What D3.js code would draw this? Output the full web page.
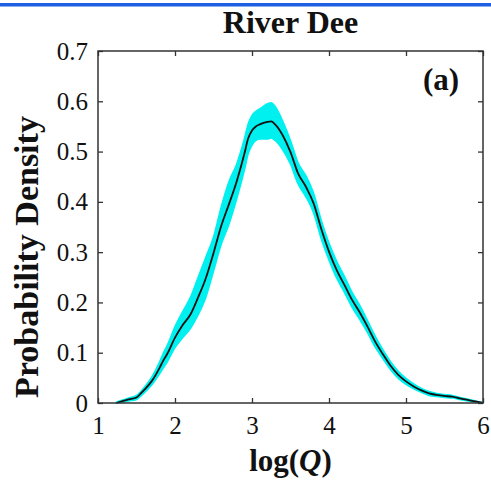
<!DOCTYPE html>
<html>
<head>
<meta charset="utf-8">
<script src="https://cdn.jsdelivr.net/npm/d3@7"></script>
<style>
html,body{margin:0;padding:0;background:#fff;}
svg{display:block;}
</style>
</head>
<body>
<svg id="chart" width="491" height="480"></svg>
<script>
// ---- data ----
const title = "River Dee";
const panelLabel = "(a)";
const xTicks = [1, 2, 3, 4, 5, 6];
const yTicks = [0, 0.1, 0.2, 0.3, 0.4, 0.5, 0.6, 0.7];
const xs = [1.24,1.3,1.4,1.5,1.55,1.6,1.7,1.8,1.85,1.9,2.0,2.1,2.2,2.3,2.4,2.5,2.6,2.7,2.8,2.9,2.95,3.0,3.05,3.1,3.2,3.25,3.3,3.4,3.5,3.6,3.7,3.8,3.9,4.0,4.1,4.2,4.3,4.4,4.5,4.6,4.7,4.8,4.9,5.0,5.1,5.2,5.3,5.4,5.5,5.6,5.7,5.8,5.9,6.0];
const meanDensity = [0,0.003,0.007,0.011,0.018,0.026,0.044,0.07,0.085,0.098,0.13,0.155,0.176,0.21,0.248,0.298,0.352,0.395,0.44,0.495,0.526,0.542,0.55,0.554,0.559,0.56,0.554,0.532,0.499,0.456,0.43,0.397,0.346,0.301,0.264,0.235,0.205,0.18,0.152,0.122,0.097,0.074,0.056,0.043,0.033,0.025,0.019,0.016,0.014,0.0125,0.009,0.006,0.003,0.0];
const upperDensity = [0.002,0.005,0.01,0.015,0.022,0.031,0.052,0.082,0.1,0.115,0.152,0.182,0.21,0.25,0.29,0.33,0.39,0.44,0.475,0.525,0.555,0.572,0.58,0.585,0.595,0.597,0.59,0.56,0.522,0.477,0.452,0.417,0.363,0.318,0.282,0.252,0.22,0.194,0.164,0.133,0.106,0.082,0.063,0.049,0.038,0.029,0.023,0.019,0.017,0.015,0.011,0.008,0.004,0.001];
const lowerDensity = [0,0.001,0.004,0.007,0.013,0.02,0.036,0.058,0.07,0.082,0.11,0.13,0.148,0.175,0.21,0.262,0.315,0.355,0.405,0.462,0.495,0.513,0.522,0.525,0.525,0.527,0.522,0.503,0.475,0.435,0.41,0.378,0.326,0.284,0.248,0.22,0.19,0.166,0.14,0.111,0.088,0.066,0.049,0.037,0.028,0.021,0.015,0.013,0.011,0.01,0.007,0.004,0.002,0];

// ---- layout ----
const svg = d3.select("#chart");
const W = 491, H = 480;
const m = {left: 98, right: 8, top: 51, bottom: 77};
const x = d3.scaleLinear().domain([1, 6]).range([m.left, W - m.right]);
const y = d3.scaleLinear().domain([0, 0.7]).range([H - m.bottom, m.top]);
const serif = "'Liberation Serif','Times New Roman',Times,serif";

// top blue rule
svg.append("rect").attr("x", 0).attr("y", 3).attr("width", W).attr("height", 3.5).attr("fill", "#1f5fe3");

const pts = xs.map((v, i) => ({x: v, m: meanDensity[i], u: upperDensity[i], l: lowerDensity[i]}));

// band
svg.append("path").datum(pts)
  .attr("d", d3.area().curve(d3.curveMonotoneX).x(d => x(d.x)).y0(d => y(d.l)).y1(d => y(d.u)))
  .attr("fill", "#00f0f0").attr("stroke", "#00f0f0").attr("stroke-width", 1.5);

// mean line
svg.append("path").datum(pts)
  .attr("d", d3.line().curve(d3.curveMonotoneX).x(d => x(d.x)).y(d => y(d.m)))
  .attr("fill", "none").attr("stroke", "#111").attr("stroke-width", 1.8);

// axes (box with inward ticks)
const axisColor = "#333";
function styleAxis(g, showLabels) {
  g.select(".domain").remove();
  g.selectAll(".tick line").attr("stroke", axisColor).attr("stroke-width", 1.3);
  g.selectAll(".tick text").attr("font-family", serif).attr("font-size", 25).attr("fill", "#111");
  if (!showLabels) g.selectAll(".tick text").remove();
}
const gx = svg.append("g").attr("transform", `translate(0,${H - m.bottom})`)
  .call(d3.axisBottom(x).tickValues(xTicks).tickFormat(d3.format("d")).tickSizeInner(-5).tickSizeOuter(0).tickPadding(13));
styleAxis(gx, true);
const gxt = svg.append("g").attr("transform", `translate(0,${m.top})`)
  .call(d3.axisTop(x).tickValues(xTicks).tickSizeInner(-5).tickSizeOuter(0));
styleAxis(gxt, false);
const gy = svg.append("g").attr("transform", `translate(${m.left},0)`)
  .call(d3.axisLeft(y).tickValues(yTicks).tickFormat(d => d === 0 ? "0" : d3.format(".1f")(d)).tickSizeInner(-5).tickSizeOuter(0).tickPadding(10));
styleAxis(gy, true);
const gyr = svg.append("g").attr("transform", `translate(${W - m.right},0)`)
  .call(d3.axisRight(y).tickValues(yTicks).tickSizeInner(-5).tickSizeOuter(0));
styleAxis(gyr, false);

svg.append("rect").attr("x", x(1)).attr("y", y(0.7)).attr("width", x(6) - x(1)).attr("height", y(0) - y(0.7))
  .attr("fill", "none").attr("stroke", axisColor).attr("stroke-width", 1.5);

// title
svg.append("text").attr("x", (x(1) + x(6)) / 2).attr("y", 33).attr("text-anchor", "middle")
  .attr("font-family", serif).attr("font-weight", "bold").attr("font-size", 32).attr("fill", "#111").text(title);

// panel label
svg.append("text").attr("x", 441).attr("y", 90).attr("text-anchor", "middle")
  .attr("font-family", serif).attr("font-weight", "bold").attr("font-size", 31).attr("fill", "#111").text(panelLabel);

// x label
const xl = svg.append("text").attr("x", (x(1) + x(6)) / 2).attr("y", 471).attr("text-anchor", "middle")
  .attr("font-family", serif).attr("font-weight", "bold").attr("font-size", 31).attr("fill", "#111");
xl.append("tspan").text("log(");
xl.append("tspan").attr("font-style", "italic").text("Q");
xl.append("tspan").text(")");

// y label
svg.append("text").attr("transform", `translate(38,${(y(0) + y(0.7)) / 2 + 30}) rotate(-90)`).attr("text-anchor", "middle")
  .attr("font-family", serif).attr("font-weight", "bold").attr("font-size", 34).attr("fill", "#111").text("Probability Density");
</script>
</body>
</html>
